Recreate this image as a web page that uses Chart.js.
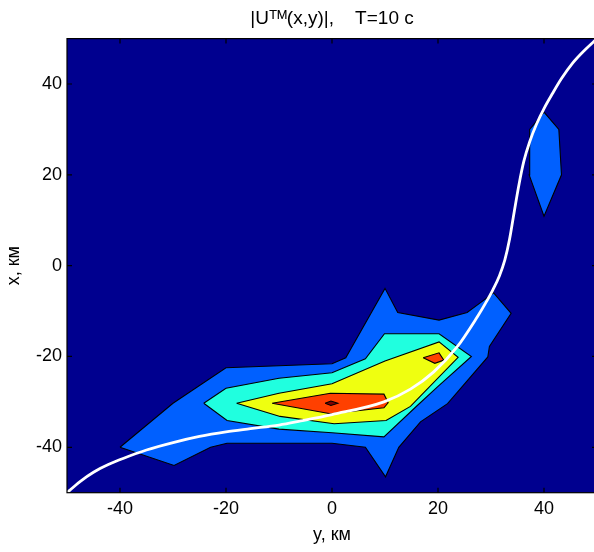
<!DOCTYPE html>
<html><head><meta charset="utf-8">
<script src="https://cdn.jsdelivr.net/npm/chart.js@4.4.1/dist/chart.umd.min.js"></script>
<style>
html,body{margin:0;padding:0;background:#fff;overflow:hidden;width:594px;height:552px}
#wrap{width:600px;height:552px;position:relative}
</style>
</head><body>
<div id="wrap"><canvas id="c" width="600" height="552"></canvas></div>
<script>
// Tick labels
const xTicks = [-40, -20, 0, 20, 40];
const yTicks = [-40, -20, 0, 20, 40];

// Contour polygons: [y km (horizontal), x km (vertical)]
const level1Main = [[-40,-40],[-30,-30.3],[-20,-22.5],[0,-21.6],[2.6,-20.3],[10,-5],[12.4,-10.3],[20.2,-12],[25.5,-10.3],[30.5,-6],[33.8,-10.5],[29.7,-17.8],[29.4,-20.1],[21.8,-30.4],[16.7,-34.4],[12.6,-40],[10.1,-46.5],[6.3,-40],[0,-39.1],[-19.8,-39.1],[-22.9,-40],[-29.8,-44]];
const level1Top  = [[40,33.8],[42.8,30],[43.3,20],[40,10.9],[37.2,20],[37.3,30]];
const level2Main = [[-24.2,-30.3],[-20,-27],[-10,-24.8],[0,-23.6],[6.3,-20.5],[9.9,-15],[20.2,-15],[26.3,-20],[19.9,-26.7],[16.1,-30.8],[9.8,-37.7],[0,-36.8],[-10,-36],[-19.8,-34.1]];
const level3Main = [[-18,-30.3],[-10,-28.1],[0,-26],[10,-21],[20.2,-16.8],[23.8,-20.2],[14.8,-31],[10.2,-34.1],[0.4,-34.8],[-9.8,-33.2]];
const level4Main = [[-11.3,-30.3],[-0.3,-28.1],[9.8,-28.3],[10.6,-30.2],[9.8,-31.3],[-0.3,-32.6]];
const level4Side = [[17.2,-20.3],[20.2,-19.2],[21.1,-20.8],[19.4,-21.5]];
const level5Peak = [[-1.3,-30.3],[-0.2,-29.8],[1.1,-30.3],[-0.2,-30.8]];

// Ray path (white curve)
const rayPath = [[-50,-50],[-47.6,-47.6],[-45,-45.5],[-42.2,-43.8],[-39.3,-42.4],[-35,-40.6],[-29.8,-38.9],[-25,-37.6],[-20,-36.6],[-15.4,-35.9],[-10,-35.1],[-5.9,-34.2],[0,-32.8],[9.8,-30],[14.8,-27.2],[19.2,-23.4],[23.6,-17.9],[27.4,-11.3],[29,-8.2],[30.4,-5.2],[31.6,-2.2],[32.6,1.2],[33.5,5.8],[34.4,12],[35.3,18],[36.2,23],[37.3,27.3],[38.6,31.2],[40,34.6],[41.6,37.9],[43.3,41.2],[45.4,44.6],[47.8,47.6],[50,50]];

const colNavy = '#00008F';
const colBlue = '#0060FF';
const colCyan = '#20FFDF';
const colYellow = '#EFFF10';
const colRed = '#FF4000';
const colDark = '#800000';

function poly(pts, color, order) {
  const data = pts.map(p => ({x: p[0], y: p[1]}));
  data.push({x: pts[0][0], y: pts[0][1]});
  return {data, showLine: true, fill: 'shape', backgroundColor: color, borderColor: '#000', borderWidth: 1.1, pointRadius: 0, tension: 0, order};
}

const bgPlugin = {
  id: 'bg',
  beforeDatasetsDraw(chart) {
    const {ctx, chartArea: a} = chart;
    ctx.save(); ctx.fillStyle = colNavy; ctx.fillRect(a.left, a.top, a.right - a.left, a.bottom - a.top); ctx.restore();
  },
  afterDatasetsDraw(chart) {
    const {ctx, chartArea: a, scales} = chart;
    ctx.save();
    ctx.strokeStyle = '#000'; ctx.lineWidth = 1.2;
    ctx.strokeRect(a.left, a.top, a.right - a.left, a.bottom - a.top);
    const L = 5;
    ctx.beginPath();
    xTicks.forEach(v => { const px = scales.x.getPixelForValue(v); ctx.moveTo(px, a.bottom); ctx.lineTo(px, a.bottom - L); ctx.moveTo(px, a.top); ctx.lineTo(px, a.top + L); });
    yTicks.forEach(v => { const py = scales.y.getPixelForValue(v); ctx.moveTo(a.left, py); ctx.lineTo(a.left + L, py); ctx.moveTo(a.right, py); ctx.lineTo(a.right - L, py); });
    ctx.stroke();
    ctx.restore();
  }
};

const fontFam = "'Liberation Sans', Arial, sans-serif";
new Chart(document.getElementById('c'), {
  type: 'scatter',
  data: {
    datasets: [
      {data: rayPath.map(p => ({x: p[0], y: p[1]})), showLine: true, fill: false, borderColor: '#fff', borderWidth: 2.8, pointRadius: 0, cubicInterpolationMode: 'monotone', order: 0},
      poly(level5Peak, colDark, 1),
      poly(level4Main, colRed, 2),
      poly(level4Side, colRed, 2),
      poly(level3Main, colYellow, 3),
      poly(level2Main, colCyan, 4),
      poly(level1Main, colBlue, 5),
      poly(level1Top, colBlue, 5)
    ]
  },
  options: {
    responsive: false, animation: false, devicePixelRatio: 1,
    layout: {padding: {left: 0, right: 3, top: 0, bottom: 0}},
    plugins: {
      legend: {display: false}, tooltip: {enabled: false},
      title: {display: true, fullSize: false, text: '|U\u1D40\u1D39(x,y)|,    T=10 c', color: '#000',
        font: {family: fontFam, size: 19, weight: 'normal'}, padding: {top: 7.5, bottom: 8.3}}
    },
    scales: {
      x: {type: 'linear', min: -50, max: 50,
        afterBuildTicks: s => { s.ticks = xTicks.map(v => ({value: v})); },
        afterFit: s => { s.height = 59.3; },
        grid: {display: false, drawTicks: false}, border: {display: false},
        ticks: {color: '#000', padding: 6, font: {family: fontFam, size: 18}},
        title: {display: true, text: 'y, км', color: '#000', font: {family: fontFam, size: 18}, padding: {top: 0, bottom: 6.2}}
      },
      y: {type: 'linear', min: -50, max: 50,
        afterBuildTicks: s => { s.ticks = yTicks.map(v => ({value: v})); },
        afterFit: s => { s.width = 67; },
        grid: {display: false, drawTicks: false}, border: {display: false},
        ticks: {color: '#000', padding: 5, font: {family: fontFam, size: 18}},
        title: {display: true, text: 'x, км', color: '#000', font: {family: fontFam, size: 18}, padding: {top: 3.2, bottom: 0}}
      }
    }
  },
  plugins: [bgPlugin]
});
</script>
</body></html>
